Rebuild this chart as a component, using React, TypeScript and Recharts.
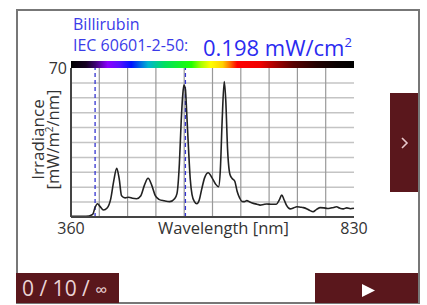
import React from 'react';
import { LineChart, Line, XAxis, YAxis, ReferenceLine, ReferenceArea } from 'recharts';

const wavelengths = [
  360, 370, 380, 390, 396, 400, 404, 408, 414, 420, 426, 431, 436, 440, 444, 450, 456, 462, 469, 476,
  482, 488, 494, 500, 506, 515, 524, 532, 536, 540, 543, 545.5, 547.5, 550, 552, 555, 558, 561, 565, 569,
  573, 577, 582, 588, 594, 600, 605, 608, 611, 614.5, 617, 620, 624, 628, 632, 636, 640, 644, 648, 652,
  657, 663, 669, 674, 680, 685, 692, 701, 706, 710, 714, 718, 724, 730, 735, 741, 746, 752, 757, 762,
  768, 774, 780, 786, 790, 796, 801, 806, 812, 818, 824, 830,
];
const irradiance = [
  0.3, 0.3, 0.3, 0.5, 1.2, 4.5, 6.2, 5.0, 3.3, 4.2, 8.5, 17, 22.9, 18, 10, 9.0, 9.3, 8.8, 8.6, 10,
  15, 18.2, 15, 10, 8.3, 7.6, 7.2, 8.6, 11, 25, 45, 57, 62, 60, 50, 33, 18, 10.5, 7.2, 6.2,
  8, 13, 18.5, 20.8, 18.5, 15.5, 14.2, 22, 45, 63.6, 55, 32, 20, 18, 16.8, 12, 9, 7.3, 7.2, 7.7,
  7.0, 6.4, 6.0, 5.6, 5.9, 6.1, 6.0, 6.0, 8, 10.3, 8, 5.5, 3.8, 4.3, 4.8, 4.6, 4.4, 3.8, 3.0, 2.5,
  3.6, 4.4, 4.3, 4.0, 4.1, 4.5, 4.8, 4.2, 3.8, 4.3, 3.9, 4.1,
];
const xTicks = [360, 830];
const yTicks = [70];
const gridWavelengths = [407, 454, 501, 548, 595, 642, 689, 736, 783];
const gridIrradiance = [7, 14, 21, 28, 35, 42, 49, 56, 63];
const bandLimits = [400, 550];
const spectrumWavelengths = [360, 385, 400, 421, 440, 460, 488, 515, 560, 576, 592, 612, 624, 636, 674, 702, 729, 768, 802, 830];
const spectrumColors = ['#000000', '#140020', '#3a0070', '#8a00ff', '#5a10ff', '#0010ff', '#00b4d0', '#00e060', '#20ff00', '#a8ff00', '#ffff00', '#ffd000', '#ff7000', '#ff0000', '#f00000', '#a00000', '#580000', '#220000', '#080000', '#000000'];
const titleName = 'Billirubin';
const titleStandard = 'IEC 60601-2-50:';
const totalValue = '0.198 mW/cm';
const counterText = '0 / 10 / ';

const data = wavelengths.map((w, i) => ({ w, v: irradiance[i] }));

const MAROON = '#5a171c';
const TEXT = '#333';

const XTick = (p: any) => (
  <text x={p.x} y={p.y} dy="0.75em" textAnchor="middle" fontSize={16} fill={TEXT}>
    {p.payload.value}
  </text>
);
const YTick = (p: any) => (
  <text x={p.x} y={p.y} dy="0.36em" textAnchor="end" fontSize={16} fill={TEXT}>
    {p.payload.value}
  </text>
);
const XLabel = (p: any) => {
  const vb = p.viewBox;
  return (
    <text x={vb.x + vb.width / 2 + 11} y={vb.y + 5} dy="0.75em" textAnchor="middle" fontSize={16.5} fill={TEXT}>
      Wavelength [nm]
    </text>
  );
};
const YLabel = (p: any) => {
  const vb = p.viewBox;
  const cy = vb.y + vb.height / 2 - 3;
  return (
    <g>
      <text transform={`translate(${vb.x + 44},${cy}) rotate(-90)`} textAnchor="middle" fontSize={17} fill={TEXT}>
        Irradiance
      </text>
      <text transform={`translate(${vb.x + 58.5},${cy}) rotate(-90)`} textAnchor="middle" fontSize={16.5} fill={TEXT}>
        [mW/m<tspan fontSize={10} dy={-6}>2</tspan><tspan dy={6}>/nm]</tspan>
      </text>
    </g>
  );
};

export default function App() {
  return (
    <div style={{ position: 'fixed', left: 0, top: 0, width: 427, height: 305, background: '#fff', fontFamily: '"Open Sans", sans-serif', overflow: 'hidden' }}>
      <svg width={0} height={0} style={{ position: 'absolute' }}>
        <defs>
          <linearGradient id="spectrum" x1="0" y1="0" x2="1" y2="0">
            {spectrumWavelengths.map((w, i) => (
              <stop key={w} offset={(w - 360) / 470} stopColor={spectrumColors[i]} />
            ))}
          </linearGradient>
        </defs>
      </svg>
      <div style={{ position: 'absolute', left: 16, top: 9, width: 400, height: 291, border: '2px solid #777' }} />
      <div style={{ position: 'absolute', left: 73, top: 14, fontSize: 16, color: '#3b3be8', lineHeight: '20px' }}>{titleName}</div>
      <div style={{ position: 'absolute', left: 73, top: 35, fontSize: 16, color: '#3b3be8', lineHeight: '20px' }}>{titleStandard}</div>
      <div style={{ position: 'absolute', left: 203, top: 29, fontSize: 22, color: '#2b2bf0', lineHeight: '26px', whiteSpace: 'nowrap' }}>
        {totalValue}
        <span style={{ fontSize: 13, verticalAlign: 9 }}>2</span>
      </div>
      <LineChart width={427} height={305} data={data} margin={{ top: 68, right: 73, bottom: 0, left: 0 }}>
        <XAxis
          dataKey="w"
          type="number"
          domain={[360, 830]}
          ticks={xTicks}
          height={88}
          tickSize={0}
          tickMargin={5}
          tickLine={false}
          axisLine={{ stroke: '#444', strokeWidth: 2 }}
          tick={<XTick />}
          label={{ content: <XLabel /> }}
        />
        <YAxis
          type="number"
          domain={[0, 70]}
          ticks={yTicks}
          width={71}
          tickSize={0}
          tickMargin={4}
          tickLine={false}
          axisLine={{ stroke: '#444', strokeWidth: 2 }}
          tick={<YTick />}
          label={{ content: <YLabel /> }}
        />
        {gridIrradiance.map((g) => (
          <ReferenceLine key={'h' + g} y={g} stroke="#c4c4c4" strokeWidth={1.5} />
        ))}
        {gridWavelengths.map((g) => (
          <ReferenceLine key={'v' + g} x={g} stroke="#999" strokeWidth={1.2} />
        ))}
        <ReferenceArea x1={360} x2={830} y1={70} y2={73.3} ifOverflow="visible" fill="url(#spectrum)" fillOpacity={1} stroke="none" />
        {bandLimits.map((b) => (
          <ReferenceLine key={'b' + b} x={b} stroke="#3434d0" strokeWidth={1.3} strokeDasharray="4 3" />
        ))}
        <Line type="monotone" dataKey="v" stroke="#222" strokeWidth={1.6} dot={false} isAnimationActive={false} />
      </LineChart>
      <div style={{ position: 'absolute', left: 390, top: 93, width: 28, height: 99, background: MAROON }}>
        <svg width={28} height={99} style={{ position: 'absolute', left: 0, top: 0 }}>
          <polyline points="12,45 17,50 12,55" fill="none" stroke="#e8c8cc" strokeWidth={1.6} />
        </svg>
      </div>
      <div style={{ position: 'absolute', left: 16, top: 273, width: 103, height: 30, background: MAROON, color: '#ead3d5', fontSize: 21, lineHeight: '30px', paddingLeft: 6, boxSizing: 'border-box', whiteSpace: 'nowrap' }}>
        {counterText}
        <span style={{ fontSize: 17 }}>∞</span>
      </div>
      <div style={{ position: 'absolute', left: 315, top: 273, width: 103, height: 30, background: MAROON }}>
        <svg width={103} height={30} style={{ position: 'absolute', left: 0, top: 0 }}>
          <polygon points="47,11 60,17.5 47,24" fill="#fff" />
        </svg>
      </div>
    </div>
  );
}
